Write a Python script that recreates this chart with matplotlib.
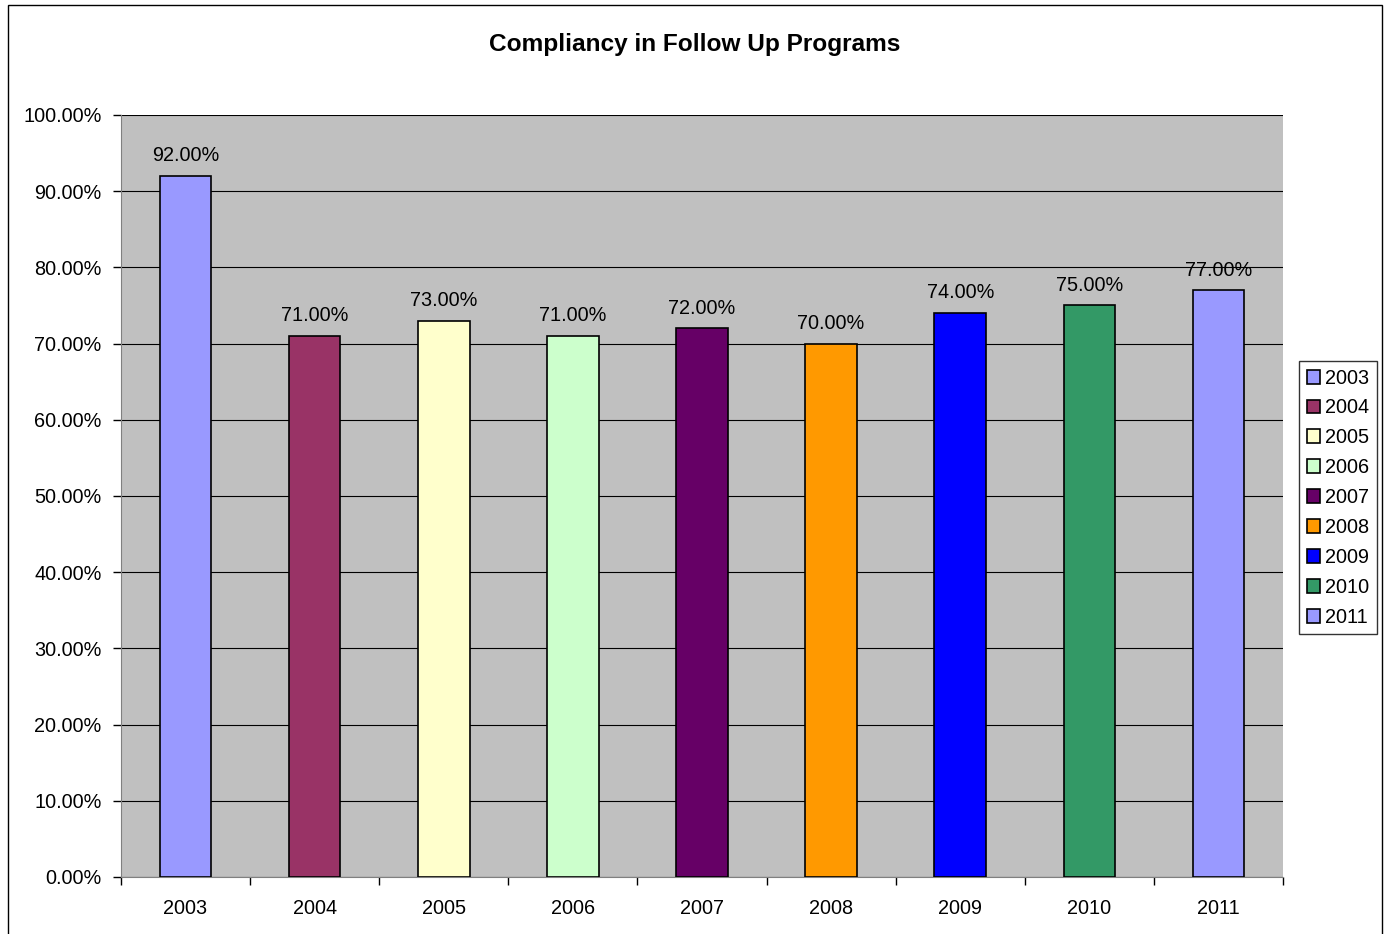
import numpy as np
import matplotlib.pyplot as plt
from matplotlib.patches import Rectangle
from matplotlib.ticker import FuncFormatter

years = ['2003', '2004', '2005', '2006', '2007', '2008', '2009', '2010', '2011']
compliance = [92.0, 71.0, 73.0, 71.0, 72.0, 70.0, 74.0, 75.0, 77.0]
colors = ['#9999FF', '#993366', '#FFFFCC', '#CCFFCC', '#660066',
          '#FF9900', '#0000FF', '#339966', '#9999FF']

plt.rcParams['font.family'] = ['Liberation Sans', 'DejaVu Sans']

fig = plt.figure(figsize=(13.84, 9.34), dpi=100)
# outer chart border
fig.patches.append(Rectangle((8 / 1384, -0.01), 1374 / 1384, 1 - 5 / 934 + 0.01,
                             transform=fig.transFigure, fill=False,
                             edgecolor='black', linewidth=1))

ax = fig.add_axes([121 / 1384, 1 - 877 / 934, 1162 / 1384, 762 / 934])
ax.set_facecolor('#C0C0C0')

x = np.arange(len(years))
for i in range(len(years)):
    ax.bar(x[i], compliance[i], width=0.4, color=colors[i],
           edgecolor='black', linewidth=1.2, label=years[i], zorder=3)
    ax.text(x[i], compliance[i] + 1.4, '%.2f%%' % compliance[i],
            ha='center', va='bottom', fontsize=14.3)

ax.set_xlim(-0.5, len(years) - 0.5)
ax.set_ylim(0, 100)
ax.set_yticks(np.arange(0, 101, 10))
ax.yaxis.set_major_formatter(FuncFormatter(lambda v, p: '%.2f%%' % v))
ax.grid(axis='y', color='black', linewidth=0.8, zorder=1)

ax.set_xticks(x)
ax.set_xticklabels(years)
ax.set_xticks(np.arange(-0.5, len(years), 1), minor=True)
ax.tick_params(axis='x', which='major', length=0, pad=16, labelsize=14.3)
ax.tick_params(axis='x', which='minor', length=6, direction='out', width=1)
ax.tick_params(axis='y', length=6, direction='out', width=1, labelsize=14.3, pad=8)

for s in ['top', 'right']:
    ax.spines[s].set_visible(False)
ax.spines['left'].set_color('#808080')
ax.spines['bottom'].set_color('#808080')

ax.set_title('Compliancy in Follow Up Programs', fontsize=17.6, fontweight='bold', pad=46)
ax.title.set_x(0.4935)

leg = fig.legend(loc='upper left', bbox_to_anchor=(1299 / 1384, 1 - 361 / 934),
                 fontsize=14.3, frameon=True, fancybox=False, edgecolor='black',
                 handlelength=0.7, handleheight=0.7, handletextpad=0.25,
                 labelspacing=0.55, borderpad=0.38, borderaxespad=0)
leg.get_frame().set_linewidth(1)

plt.savefig('out.png', dpi=100)
